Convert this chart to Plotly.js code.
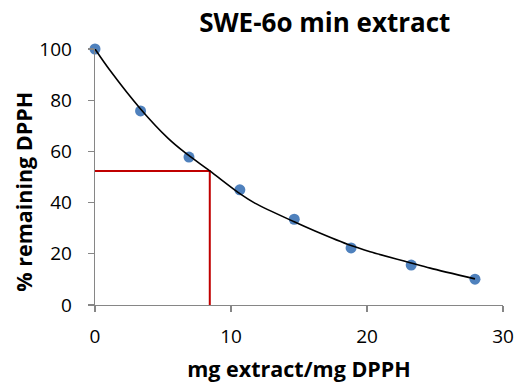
<!DOCTYPE html>
<html>
<head>
<meta charset="utf-8">
<script src="https://cdn.plot.ly/plotly-3.0.1.min.js"></script>
<style>html,body{margin:0;padding:0;background:#fff;}#chart{width:518px;height:383px;}</style>
</head>
<body>
<div id="chart"></div>
<script>
// Measured data points
const doseX = [0, 3.35, 6.91, 10.65, 14.65, 18.83, 23.25, 27.94];
const remainingY = [100, 75.8, 57.8, 45.0, 33.5, 22.3, 15.6, 10.1];

// Trendline
const fitX = [0, 1.07, 3.35, 5.36, 6.6, 8.44, 10.65, 11.75, 14.65, 16.18, 18.83, 20.23, 23.25, 24.65, 27.94];
const fitY = [100, 91.9, 76.6, 65.2, 59.6, 52.4, 43.5, 39.8, 32.5, 28.9, 23.2, 20.8, 16.4, 14.4, 10.2];

// IC50-style marker lines (red)
const markX = [0, 8.44, 8.44];
const markY = [52.3, 52.3, 0];

const xTicks = [0, 10, 20, 30];
const yTicks = [0, 20, 40, 60, 80, 100];

const FONT = '"Open Sans", Lato, sans-serif';

const traces = [
  {x: doseX, y: remainingY, type: 'scatter', mode: 'markers',
   marker: {color: '#4F81BD', size: 11}, hoverinfo: 'skip', cliponaxis: false},
  {x: markX, y: markY, type: 'scatter', mode: 'lines',
   line: {color: '#C00000', width: 2}, hoverinfo: 'skip'},
  {x: fitX, y: fitY, type: 'scatter', mode: 'lines',
   line: {color: '#000000', width: 1.6, shape: 'spline', smoothing: 0.8}, hoverinfo: 'skip', cliponaxis: false}
];

const layout = {
  width: 518, height: 383,
  margin: {l: 95, r: 15, t: 49, b: 78, pad: 0},
  paper_bgcolor: '#ffffff', plot_bgcolor: '#ffffff',
  showlegend: false,
  font: {family: FONT, color: '#000000', size: 19},
  title: {text: '<b>SWE-6o min extract</b>', font: {family: FONT, size: 26, color: '#000'},
          xref: 'container', x: 0.627, xanchor: 'center', yref: 'container', y: 0.965, yanchor: 'top'},
  xaxis: {range: [0, 30], tickvals: xTicks, ticktext: xTicks.map(String),
          showgrid: false, zeroline: false, showline: true, linecolor: '#868686', linewidth: 1.3,
          ticks: 'outside', ticklen: 6, tickcolor: '#868686', tickwidth: 1.3,
          ticklabelstandoff: 8,
          tickfont: {family: FONT, size: 19, color: '#000'},
          title: {text: '<b>mg extract/mg DPPH</b>', font: {family: FONT, size: 21.5, color: '#000'}, standoff: 17}},
  yaxis: {range: [0, 100], tickvals: yTicks, ticktext: yTicks.map(String),
          showgrid: false, zeroline: false, showline: true, linecolor: '#868686', linewidth: 1.3,
          ticks: 'outside', ticklen: 6, tickcolor: '#868686', tickwidth: 1.3,
          ticklabelstandoff: 12,
          tickfont: {family: FONT, size: 19, color: '#000'}},
  annotations: [{text: '<b>% remaining DPPH</b>', textangle: -90, showarrow: false,
                 xref: 'paper', yref: 'paper', x: -0.176, y: 0.443, xanchor: 'center', yanchor: 'middle',
                 font: {family: FONT, size: 21.5, color: '#000'}}]
};

Plotly.newPlot('chart', traces, layout, {staticPlot: true, displayModeBar: false});
</script>
</body>
</html>
